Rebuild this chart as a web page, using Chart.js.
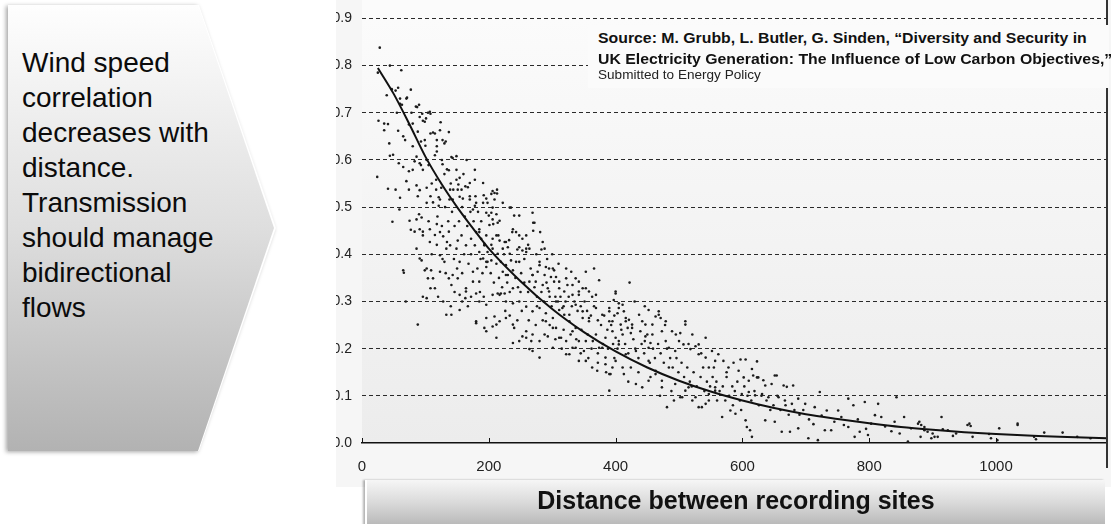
<!DOCTYPE html>
<html>
<head>
<meta charset="utf-8">
<script src="https://cdn.jsdelivr.net/npm/chart.js@4.4.1/dist/chart.umd.min.js"></script>
<style>
  html, body { margin: 0; padding: 0; }
  body {
    width: 1111px; height: 524px; overflow: hidden; position: relative;
    background: #fff; font-family: "Liberation Sans", Arial, sans-serif;
  }
  #chev-wrap {
    position: absolute; left: 0; top: 0; width: 300px; height: 470px;
    filter: drop-shadow(-2px 1px 2px rgba(0,0,0,0.35));
  }
  #chev-edge, #chev-fill { position: absolute; left: 8px; top: 5px; width: 268px; height: 446px; }
  #chev-edge {
    background: #fff;
    clip-path: polygon(0 0, 191px 0, 268px 223px, 191px 446px, 0 446px);
  }
  #chev-fill {
    background: linear-gradient(#fefefe 0%, #dedede 50%, #b2b2b2 100%);
    clip-path: polygon(0 0, 190px 0, 266px 223px, 190px 446px, 0 446px);
  }
  #chev-text {
    position: absolute; left: 22px; top: 45px;
    font-size: 28px; line-height: 35px; color: #0b0b0b;
  }
  #panel {
    position: absolute; left: 336px; top: 0; width: 775px; height: 487px;
    background: #f6f6f6; overflow: hidden;
  }
  #chart-box { position: absolute; left: -16px; top: 0; width: 791px; height: 487px; }
  #source {
    position: absolute; left: 252px; top: 25px; width: 521px; height: 63px;
    background: #fbfbfb;
  }
  .src { position: absolute; left: 10px; white-space: nowrap; color: #111;
    transform: scaleX(1.13); transform-origin: left center; }
  .src.b { font-weight: bold; font-size: 14px; line-height: 14px; }
  .src.r { font-size: 12px; line-height: 12px; color: #222; }
  #xtitle {
    position: absolute; left: 365px; top: 480px; width: 740px; height: 60px;
    background: linear-gradient(#f6f6f6 0px, #d8d8d8 24px, #bababa 44px);
    border-left: 2px solid #fff; box-shadow: -2px 0 2px rgba(0,0,0,0.3);
    text-align: center; font-weight: bold; font-size: 25px; line-height: 25px;
    padding-top: 8px; box-sizing: border-box; color: #111;
  }
</style>
</head>
<body>
<div id="chev-wrap"><div id="chev-edge"></div><div id="chev-fill"></div></div>
<div id="chev-text">Wind speed<br>correlation<br>decreases with<br>distance.<br>Transmission<br>should manage<br>bidirectional<br>flows</div>

<div id="panel">
  <div id="chart-box"><canvas id="wind-chart" width="791" height="487"></canvas></div>
  <div id="source">
    <div class="src b" style="top:6px">Source: M. Grubb, L. Butler, G. Sinden, “Diversity and Security in</div>
    <div class="src b" style="top:27px">UK Electricity Generation: The Influence of Low Carbon Objectives,”</div>
    <div class="src r" style="top:44px">Submitted to Energy Policy</div>
  </div>
</div>
<div id="xtitle">Distance between recording sites</div>

<script>
// axis ticks
const xTickValues = [0, 200, 400, 600, 800, 1000];
const yTickValues = [0, 0.1, 0.2, 0.3, 0.4, 0.5, 0.6, 0.7, 0.8, 0.9];

// fitted decay curve
const fitDistance = [25, 50, 75, 100, 125, 150, 175, 200, 250, 300, 350, 400, 450, 500, 550, 600, 650, 700, 750, 800, 850, 900, 950, 1000, 1050, 1100, 1175];
const fitCorrelation = [0.795, 0.74, 0.675, 0.607, 0.55, 0.5, 0.455, 0.412, 0.343, 0.284, 0.235, 0.194, 0.16, 0.132, 0.109, 0.09, 0.074, 0.061, 0.051, 0.042, 0.034, 0.028, 0.023, 0.019, 0.016, 0.013, 0.010];

// site pairs [distance, correlation], grouped by distance band
const pairsNear = [
  [28,.838],[44,.80],[62,.79],[25,.785],[47,.75],[53,.747],[57,.753],[77,.749],[39,.737],[60,.719],[63,.717],[70,.73],[85,.713],[90,.717],
  [26,.683],[35,.677],[41,.676],[35,.663],[95,.698],[104,.70],[108,.698],[96,.683],[101,.688],[124,.68],[137,.659],
  [57,.662],[65,.65],[68,.642],[80,.677],[74,.675],[80,.629],[93,.639],[99,.642],[108,.656],[112,.658],[118,.642],[127,.642],[132,.639],
  [118,.629],[118,.618],[126,.60],[127,.591],[134,.58],[137,.578],[141,.606],[149,.608],
  [43,.635],[49,.611],[44,.609],[58,.593],[65,.585],[74,.576],[83,.597],[80,.579],[93,.589],[96,.579],[102,.60],[105,.589],[24,.564],
  [41,.539],[53,.537],[60,.52],[59,.495],[70,.555],[74,.537],[86,.546],[91,.536],[88,.523],[102,.541],[108,.523],[102,.509],[117,.537],
  [121,.521],[123,.516],[121,.503],[125,.541],[139,.537],[138,.516],[144,.537],[149,.558],[152,.548],[151,.537],[157,.537],[154,.522],
  [159,.518],[163,.544],[167,.542],[170,.523],[178,.558],[179,.523],[180,.509],[178,.503],[192,.525],[196,.518],[198,.509],
  [48,.469],[77,.452],[90,.485],[94,.478],[83,.448],[96,.448],[107,.453],[118,.464],[123,.447],[115,.441],[128,.438],[137,.448],
  [134,.426],[139,.419],[151,.429],[157,.44],[149,.412],[164,.419],[172,.433],[180,.447],[178,.419],[185,.405],[193,.419],[198,.384],
  [65,.366],[66,.361],[94,.387],[99,.366],[109,.366],[104,.349],[123,.363],[115,.328],[108,.328],[130,.384],[137,.349],[141,.335],
  [151,.349],[154,.314],[164,.321],[163,.307],[175,.342],[180,.317],[185,.30],[196,.293],[96,.31],[102,.307],[88,.251],[133,.272],
  [141,.272],[154,.282],[180,.254],[196,.265],[193,.244],[69,.30],
  [185,.447],[188,.433],[196,.44],[193,.422],[198,.405],[191,.391],[196,.373],[191,.509],[196,.384],
  [86,.412],[91,.391],[102,.37],[112,.349],[123,.398],[133,.412],[143,.356],[154,.384],[164,.328],[175,.363],[185,.342],[180,.258],[196,.237],
  [60,.73],[71,.732],[87,.712],[107,.702],[91,.691],[99,.681],[115,.656],[123,.663],[130,.635],[143,.604],[149,.579],[154,.562],
  [170,.551],[178,.579],[191,.551],[86,.607],[91,.593],[117,.558],[143,.516],[170,.516],[175,.495],[196,.488],[185,.453],[75,.471],
  [86,.474],[91,.453],[96,.44],[107,.426],
  [105,.47],[112,.51],[119,.48],[126,.46],[131,.5],[136,.47],[142,.49],[146,.46],[153,.47],[158,.5],[162,.48],[166,.46],[171,.49],
  [176,.47],[183,.49],[188,.47],[110,.4],[118,.42],[127,.39],[132,.36],[145,.39],[150,.37],[158,.36],[161,.4],[168,.38],[172,.4],
  [182,.37],[187,.39],[190,.36],[146,.32],[158,.3],[167,.29],[172,.31],[186,.32],[192,.31],[120,.31],[128,.3],[140,.29],[110,.55],
  [130,.57],[140,.55],[160,.57],[165,.6],[100,.63],[115,.61],[88,.66],[78,.7],[55,.7]
];
const pairsMid = [
  [206,.534],[213,.529],[204,.528],[209,.53],[213,.537],[209,.516],[206,.499],[204,.488],[200,.482],[212,.485],[214,.467],[207,.464],
  [201,.462],[217,.471],[235,.499],[240,.482],[238,.453],[243,.447],[237,.447],[269,.488],[270,.467],[281,.447],[285,.426],[270,.45],
  [259,.44],[253,.433],[248,.415],[264,.412],[253,.408],
  [206,.433],[217,.429],[225,.426],[230,.415],[222,.412],[233,.401],[214,.401],[206,.412],[204,.387],[212,.38],[219,.384],[227,.377],
  [235,.387],[243,.384],[238,.366],[230,.356],[222,.363],
  [280,.384],[290,.373],[295,.37],[303,.366],[288,.356],[298,.352],[306,.352],[277,.363],[269,.356],[264,.342],[274,.342],[285,.335],
  [293,.328],[303,.342],[311,.328],[319,.321],[322,.37],[330,.363],[337,.349],[342,.342],[348,.328],[353,.363],[366,.37],[374,.345],
  [358,.321],[369,.314],[342,.314],[332,.314],[324,.335],
  [206,.314],[214,.317],[219,.317],[225,.317],[227,.30],[238,.296],[248,.30],[259,.289],[269,.279],[280,.286],[290,.275],[301,.265],
  [311,.282],[319,.272],[327,.258],[337,.244],[348,.265],[358,.258],[369,.286],[379,.272],[390,.286],[395,.258],
  [209,.268],[206,.247],[217,.258],[212,.223],[240,.244],[253,.226],[259,.223],[267,.216],[269,.23],[288,.23],[293,.226],[280,.181],
  [264,.199],[238,.212],
  [306,.244],[314,.223],[322,.216],[327,.188],[337,.202],[342,.216],[350,.195],[353,.174],[371,.153],[384,.167],[392,.146],[390,.111],
  [379,.202],[364,.216],[369,.23],[384,.223],
  [301,.37],[311,.342],[322,.349],[332,.335],[342,.321],[353,.328],[363,.31],[295,.321],[306,.30],[316,.286],[327,.272],[337,.293],
  [348,.279],[358,.265],[390,.258],[290,.258],[301,.244],[311,.223],[332,.237],[353,.216],[374,.202],[384,.181],[395,.16],[332,.202],
  [322,.188],[342,.174],[363,.16],[301,.202],[280,.216],[269,.195],[259,.237],[248,.216],[238,.251],
  [217,.314],[227,.356],[238,.328],[248,.384],[259,.405],[269,.356],[280,.377],[212,.251],[227,.265],
  [222,.509],[233,.499],[248,.482],[272,.467],[288,.412],[206,.474],[212,.44],[227,.426],[248,.44],[259,.412],
  [390,.279],[395,.237],[390,.146],[397,.303],
  [203,.36],[208,.34],[216,.35],[221,.33],[229,.34],[233,.32],[242,.35],[246,.33],[251,.36],[256,.34],[262,.32],[266,.37],[272,.33],
  [276,.31],[283,.32],[287,.3],[291,.34],[296,.31],[299,.29],[305,.31],[309,.3],[313,.31],[318,.29],[321,.3],[326,.31],[331,.29],
  [335,.3],[340,.28],[345,.29],[351,.3],[355,.28],[361,.27],[366,.29],[372,.26],[377,.25],[382,.27],[387,.24],[393,.25],[398,.27],
  [204,.42],[215,.44],[224,.4],[232,.43],[245,.41],[256,.39],[262,.42],[275,.4],[283,.41],[292,.39],[300,.4],[310,.38],
  [226,.28],[233,.27],[245,.26],[252,.28],[263,.26],[274,.25],[285,.26],[296,.25],[305,.22],[318,.24],[329,.23],[338,.22],[346,.24],
  [356,.23],[362,.2],[372,.19],[380,.21],[388,.2],[396,.21],[276,.29],[250,.32],[315,.2],[345,.19],[357,.18],[372,.17],[385,.15],[398,.18]
];
const pairsFar = [
  [422,.34],[400,.317],[405,.296],[411,.293],[403,.275],[413,.279],[416,.265],[421,.261],[408,.251],[419,.244],[426,.251],[424,.233],
  [411,.23],[400,.223],
  [437,.272],[442,.258],[452,.282],[463,.268],[458,.251],[468,.272],[471,.265],[439,.237],[447,.226],[446,.216],[455,.212],[452,.202],
  [473,.237],[479,.216],[484,.202],[494,.195],[500,.216],[510,.258],[502,.233],[507,.209],[518,.199],[526,.205],[531,.188],[542,.181],
  [547,.16],[557,.174],[562,.188],[570,.174],[578,.16],[586,.17],[597,.177],[605,.177],[615,.157],[623,.139],
  [400,.174],[413,.146],[424,.16],[432,.125],[442,.118],[452,.132],[463,.146],[473,.118],[481,.076],[492,.09],[502,.097],[510,.111],
  [521,.09],[531,.076],[542,.083],[547,.104],[557,.118],[573,.09],[581,.069],[589,.062],[599,.104],[605,.048],[612,.027],[615,.013],[568,.055],
  [400,.321],[405,.286],[416,.258],[426,.244],[447,.251],[458,.23],[468,.279],[479,.258],[489,.237],[510,.251],[521,.23],[531,.209],
  [542,.223],[552,.195],[405,.209],[432,.195],[452,.174],[463,.153],[473,.132],[484,.16],[494,.125],[505,.097],[515,.118],[526,.097],
  [536,.076],[547,.09],[557,.111],[405,.216],[411,.16],[416,.188],
  [623,.173],[654,.143],[594,.153],[602,.139],[610,.132],[617,.143],[625,.139],[633,.133],[636,.122],[646,.125],[665,.122],[680,.122],
  [670,.119],[610,.108],[620,.101],[631,.104],[641,.097],[657,.097],[667,.09],[678,.083],[688,.094],[699,.083],
  [607,.034],[636,.048],[651,.045],[662,.024],[675,.024],[688,.031],[651,.143],
  [403,.2],[409,.24],[415,.21],[420,.19],[428,.22],[431,.2],[436,.18],[441,.21],[445,.19],[450,.23],[454,.17],[459,.2],[462,.18],
  [467,.21],[471,.19],[476,.17],[481,.2],[486,.18],[490,.16],[496,.18],[499,.15],[504,.17],[508,.14],[513,.16],[517,.13],[523,.15],
  [528,.12],[534,.14],[538,.16],[544,.13],[549,.12],[553,.14],[559,.13],[564,.11],[569,.12],[575,.14],[579,.1],[584,.12],[588,.11],
  [592,.13],[596,.09],[603,.12],[608,.1],[614,.09],[619,.11],[626,.08],[630,.1],[638,.09],[644,.07],[649,.08],[655,.1],[660,.07],
  [668,.08],[673,.06],[682,.07],[690,.06],[696,.07],[420,.13],[436,.15],[455,.14],[470,.1],[488,.11],[520,.12],[540,.11],[560,.09],
  [585,.08],[598,.07],[446,.29],[430,.3],[478,.25],[495,.23],[515,.21],[535,.19],[555,.16],[575,.15]
];
const pairsTail = [
  [722,.108],[714,.076],[733,.069],[751,.069],[767,.094],[775,.08],[793,.087],[814,.083],[809,.059],[704,.01],[719,.006],[730,.027],
  [740,.027],[756,.055],[767,.034],[777,.013],[785,.024],[798,.017],[803,.041],[819,.055],[840,.045],[855,.055],[866,.031],[877,.041],
  [887,.034],[903,.013],[861,.003],[843,.097],
  [705,.05],[712,.04],[725,.058],[745,.045],[760,.038],[782,.05],[795,.03],[825,.035],[835,.025],[848,.02],
  [879,.045],[882,.038],[887,.027],[892,.024],[900,.02],[908,.013],[916,.029],[924,.027],[932,.015],[937,.02],[955,.038],[960,.036],
  [963,.013],[989,.019],[992,.01],[1005,.031],[1034,.038],[1060,.013],[1063,.008],[1076,.022],[1105,.022],[1128,.013],[1149,.01],
  [914,.055],[1002,.006],[881,.013],[898,.01],[958,.041],[1034,.041]
];

const sitePairs = [...pairsNear, ...pairsMid, ...pairsFar, ...pairsTail];

// plot background + inward x ticks + right frame line
const plotFrame = {
  id: 'plotFrame',
  beforeDraw(chart) {
    const { ctx, chartArea: a } = chart;
    const g = ctx.createLinearGradient(0, a.top, 0, a.bottom);
    g.addColorStop(0, '#fbfbfb');
    g.addColorStop(1, '#ececec');
    ctx.save();
    ctx.fillStyle = g;
    ctx.fillRect(a.left, 0, a.right - a.left, a.bottom);
    ctx.restore();
  },
  afterDraw(chart) {
    const { ctx, chartArea: a } = chart;
    const xs = chart.scales.x;
    ctx.save();
    ctx.strokeStyle = '#111';
    ctx.lineWidth = 1;
    xs.ticks.forEach(t => {
      const px = Math.round(xs.getPixelForValue(t.value)) + 0.5;
      ctx.beginPath();
      ctx.moveTo(px, a.bottom);
      ctx.lineTo(px, a.bottom - 5);
      ctx.stroke();
    });
    ctx.strokeStyle = '#333';
    ctx.lineWidth = 2;
    ctx.beginPath();
    ctx.moveTo(a.right, 0);
    ctx.lineTo(a.right, a.bottom + 25);
    ctx.stroke();
    ctx.restore();
  }
};

const ctx = document.getElementById('wind-chart');
new Chart(ctx, {
  type: 'scatter',
  data: {
    datasets: [{
      type: 'line',
      data: fitDistance.map((d, i) => ({ x: d, y: fitCorrelation[i] })),
      borderColor: '#111',
      borderWidth: 2,
      pointRadius: 0,
      cubicInterpolationMode: 'monotone',
      fill: false,
      order: 0
    }, {
      data: sitePairs.map(p => ({ x: p[0], y: p[1] })),
      backgroundColor: '#1c1c1c',
      borderWidth: 0,
      pointRadius: 1.3,
      order: 1
    }]
  },
  options: {
    responsive: false,
    animation: false,
    layout: { padding: { top: 14, right: 2, left: 0, bottom: 0 } },
    plugins: {
      legend: { display: false },
      tooltip: { enabled: false }
    },
    scales: {
      x: {
        type: 'linear',
        min: 0,
        max: 1175,
        afterBuildTicks: s => { s.ticks = xTickValues.map(v => ({ value: v })); },
        afterFit: s => { s.height = 44; },
        grid: { display: true, drawOnChartArea: false, drawTicks: false },
        border: { display: true, color: '#111', width: 1.5 },
        ticks: {
          padding: 15,
          color: '#222',
          font: { family: '"Liberation Sans", Arial', size: 15 },
          callback: v => String(v)
        }
      },
      y: {
        min: 0,
        max: 0.9,
        afterBuildTicks: s => { s.ticks = yTickValues.map(v => ({ value: v })); },
        afterFit: s => { s.width = 42; },
        grid: {
          color: c => (c.tick && c.tick.value === 0) ? 'rgba(0,0,0,0)' : '#2a2a2a',
          lineWidth: 1,
          drawTicks: false,
          borderDash: [4, 3]
        },
        border: { display: false, dash: [4, 3] },
        ticks: {
          padding: 10,
          color: '#222',
          font: { family: '"Liberation Sans", Arial', size: 14 },
          callback: v => Number(v).toFixed(1)
        }
      }
    }
  },
  plugins: [plotFrame]
});
</script>
</body>
</html>
